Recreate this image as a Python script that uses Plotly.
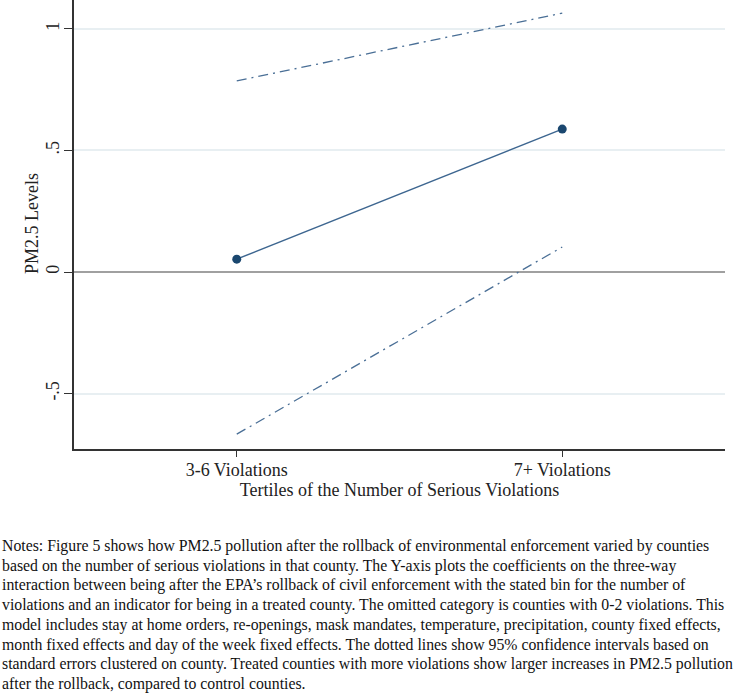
import plotly.graph_objects as go

categories = ["3-6 Violations", "7+ Violations"]
coef = [0.053, 0.588]
ci_upper = [0.786, 1.065]
ci_lower = [-0.667, 0.103]
y_tickvals = [-0.5, 0, 0.5, 1]
y_ticktext = ["-.5", "0", ".5", "1"]

notes_lines = [
    "Notes: Figure 5 shows how PM2.5 pollution after the rollback of environmental enforcement varied by counties",
    "based on the number of serious violations in that county. The Y-axis plots the coefficients on the three-way",
    "interaction between being after the EPA\u2019s rollback of civil enforcement with the stated bin for the number of",
    "violations and an indicator for being in a treated county. The omitted category is counties with 0-2 violations. This",
    "model includes stay at home orders, re-openings, mask mandates, temperature, precipitation, county fixed effects,",
    "month fixed effects and day of the week fixed effects. The dotted lines show 95% confidence intervals based on",
    "standard errors clustered on county. Treated counties with more violations show larger increases in PM2.5 pollution",
    "after the rollback, compared to control counties.",
]

xpos = list(range(len(categories)))
font_family = "Liberation Serif"

# layout geometry (pixels)
W, H = 738, 693
ML, MR, MT, MB = 74, 13, 0, 244
plot_w = W - ML - MR
plot_h = H - MT - MB

fig = go.Figure()
fig.add_trace(go.Scatter(x=xpos, y=ci_upper, mode="lines",
                         line=dict(color="#4a6f96", width=1.3, dash="10px,5px,2px,5px"),
                         showlegend=False, hoverinfo="skip"))
fig.add_trace(go.Scatter(x=xpos, y=ci_lower, mode="lines",
                         line=dict(color="#4a6f96", width=1.3, dash="10px,5px,2px,5px"),
                         showlegend=False, hoverinfo="skip"))
fig.add_trace(go.Scatter(x=xpos, y=coef, mode="lines+markers",
                         line=dict(color="#3d6690", width=1.5),
                         marker=dict(color="#1a476f", size=9),
                         showlegend=False))

annotations = []
first_line_px, line_gap = 546, 19.7
for i, line in enumerate(notes_lines):
    ypx = first_line_px + i * line_gap
    annotations.append(dict(
        text=line, xref="paper", yref="paper",
        x=(0 - ML) / plot_w, y=(plot_h - (ypx - MT)) / plot_h,
        xanchor="left", yanchor="middle", align="left", showarrow=False,
        font=dict(size=15.8, family=font_family, color="#111111"),
    ))

# y-axis title placed as rotated text
annotations.append(dict(
    text="PM2.5 Levels", xref="paper", yref="paper",
    x=(32 - ML) / plot_w, y=(plot_h - 224) / plot_h,
    xanchor="center", yanchor="middle", textangle=-90, showarrow=False,
    font=dict(size=18, family=font_family, color="#222222"),
))

fig.update_layout(
    width=W, height=H,
    margin=dict(l=ML, r=MR, t=MT, b=MB),
    paper_bgcolor="white", plot_bgcolor="white",
    font=dict(family=font_family, color="#222222", size=18),
    xaxis=dict(
        range=[-0.5, 1.5], tickvals=xpos, ticktext=categories,
        automargin=False, ticklabelstandoff=-2,
        showgrid=False, zeroline=False,
        showline=True, linecolor="#333333", linewidth=1.5,
        ticks="outside", ticklen=6, tickcolor="#333333",
        tickfont=dict(size=18, family=font_family, color="#222222"),
        title=dict(text="Tertiles of the Number of Serious Violations",
                   font=dict(size=18, family=font_family, color="#222222"), standoff=0),
    ),
    yaxis=dict(
        range=[-0.728, 1.119], tickvals=y_tickvals, ticktext=y_ticktext,
        tickangle=-90, automargin=False, ticklabelstandoff=-2,
        showgrid=True, gridcolor="#e8eff2", gridwidth=1.5,
        zeroline=True, zerolinecolor="#a0a0a0", zerolinewidth=2,
        showline=True, linecolor="#333333", linewidth=1.5,
        ticks="outside", ticklen=8, tickcolor="#333333",
        tickfont=dict(size=18, family=font_family, color="#222222"),
    ),
    annotations=annotations,
)

fig.write_html("out.html", config={"displayModeBar": False},
               post_script="document.body.style.margin='0';")
